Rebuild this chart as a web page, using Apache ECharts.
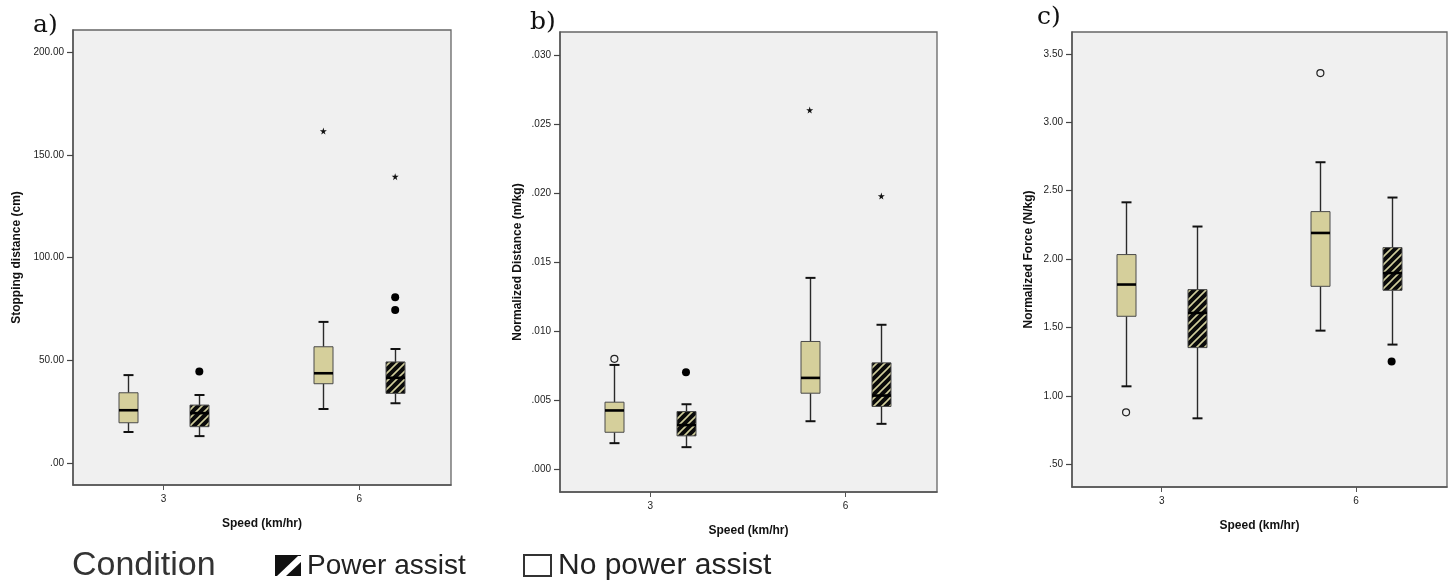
<!DOCTYPE html>
<html>
<head>
<meta charset="utf-8">
<title>Stopping distance, normalized distance and force</title>
<script src="https://cdn.jsdelivr.net/npm/echarts@6/dist/echarts.min.js"></script>
<style>
  html, body { margin: 0; padding: 0; background: #fff; }
  #chart { width: 1455px; height: 582px; }
</style>
</head>
<body>
<div id="chart"></div>
<script>
// speeds on the x axis
const speeds = [3, 6]

// box stats per speed: [lower whisker, Q1, median, Q3, upper whisker]
const stopNoAssist = [[15.1, 19.6, 25.7, 34.2, 42.8], [26.3, 38.6, 43.7, 56.6, 68.7]]
const stopAssist = [[13.1, 17.7, 24.3, 28.2, 33.1], [29.1, 33.9, 41.5, 49.2, 55.5]]
const stopAssistDots = [[3, 44.6], [6, 80.7], [6, 74.5]]
const stopNoAssistStars = [[6, 161.6]]
const stopAssistStars = [[6, 139.4]]

const distNoAssist = [[0.00189, 0.00268, 0.00426, 0.00486, 0.00756], [0.00348, 0.00551, 0.00662, 0.00926, 0.01387]]
const distAssist = [[0.0016, 0.00242, 0.0032, 0.00418, 0.00471], [0.00329, 0.00455, 0.00534, 0.00771, 0.01047]]
const distNoAssistCircles = [[3, 0.0080]]
const distAssistDots = [[3, 0.00703]]
const distNoAssistStars = [[6, 0.02603]]
const distAssistStars = [[6, 0.0198]]

const forceNoAssist = [[1.070, 1.582, 1.814, 2.033, 2.415], [1.477, 1.801, 2.191, 2.347, 2.708]]
const forceAssist = [[0.836, 1.353, 1.606, 1.777, 2.238], [1.375, 1.772, 1.898, 2.084, 2.450]]
const forceNoAssistCircles = [[3, 0.880], [6, 3.36]]
const forceAssistDots = [[6, 1.251]]

// tick labels
const stopTicks = [0, 50, 100, 150, 200]
const distTicks = [0, 0.005, 0.010, 0.015, 0.020, 0.025, 0.030]
const forceTicks = [0.5, 1, 1.5, 2, 2.5, 3, 3.5]

const KHAKI = '#d5cf9b'
const OFFSET = 0.55 // box shift left/right of the speed tick
const STAR = 'path://M50,0 L61,35 L98,35 L68,57 L79,91 L50,70 L21,91 L32,57 L2,35 L39,35 Z'

// black background with pale diagonal stripes
function makeHatch() {
  const s = 8
  const c = document.createElement('canvas')
  c.width = s
  c.height = s
  const g = c.getContext('2d')
  g.fillStyle = '#0a0a0a'
  g.fillRect(0, 0, s, s)
  g.strokeStyle = '#cfcc9a'
  g.lineWidth = 1.6
  g.beginPath()
  g.moveTo(-2, s + 2); g.lineTo(s + 2, -2)
  g.moveTo(-2, 2); g.lineTo(2, -2)
  g.moveTo(s - 2, s + 2); g.lineTo(s + 2, s - 2)
  g.stroke()
  return c
}
const hatch = { image: makeHatch(), repeat: 'repeat' }

function boxSeries(stats, offset, fill, idx) {
  return {
    type: 'custom',
    xAxisIndex: idx,
    yAxisIndex: idx,
    data: stats.map((s, i) => [speeds[i]].concat(s)),
    encode: { x: 0, y: [1, 2, 3, 4, 5] },
    renderItem(params, api) {
      const x = api.value(0) + offset
      const lo = api.coord([x, api.value(1)])
      const q1 = api.coord([x, api.value(2)])
      const md = api.coord([x, api.value(3)])
      const q3 = api.coord([x, api.value(4)])
      const hi = api.coord([x, api.value(5)])
      const cx = Math.round(lo[0]) + 0.5
      const hw = 9.5
      const cw = 5
      const wStyle = { stroke: '#2a2a2a', lineWidth: 1.4 }
      const capStyle = { stroke: '#111', lineWidth: 2 }
      return {
        type: 'group',
        children: [
          { type: 'line', shape: { x1: cx, y1: hi[1], x2: cx, y2: q3[1] }, style: wStyle },
          { type: 'line', shape: { x1: cx, y1: q1[1], x2: cx, y2: lo[1] }, style: wStyle },
          { type: 'line', shape: { x1: cx - cw, y1: hi[1], x2: cx + cw, y2: hi[1] }, style: capStyle },
          { type: 'line', shape: { x1: cx - cw, y1: lo[1], x2: cx + cw, y2: lo[1] }, style: capStyle },
          {
            type: 'rect',
            shape: { x: cx - hw, y: q3[1], width: hw * 2, height: q1[1] - q3[1] },
            style: { fill: fill, stroke: '#4a4a4a', lineWidth: 1 }
          },
          { type: 'line', shape: { x1: cx - hw, y1: md[1], x2: cx + hw, y2: md[1] }, style: { stroke: '#000', lineWidth: 2.6 } }
        ]
      }
    }
  }
}

function pointSeries(points, offset, kind, idx) {
  const base = {
    type: 'scatter',
    xAxisIndex: idx,
    yAxisIndex: idx,
    data: points.map(p => [p[0] + offset, p[1]]),
    z: 5,
    silent: true
  }
  if (kind === 'dot') {
    return Object.assign(base, { symbol: 'circle', symbolSize: 8, itemStyle: { color: '#000', opacity: 1 } })
  }
  if (kind === 'circle') {
    return Object.assign(base, {
      symbol: 'circle', symbolSize: 7,
      itemStyle: { color: '#f0f0f0', borderColor: '#222', borderWidth: 1.2, opacity: 1 }
    })
  }
  return Object.assign(base, { symbol: STAR, symbolSize: 7, itemStyle: { color: '#111', opacity: 1 } })
}

const panels = [
  { grid: { left: 73, top: 30, width: 378, height: 455 }, min: -10.7, max: 210.8, ticks: stopTicks,
    fmt: v => (v === 0 ? '.00' : v.toFixed(2)), name: 'Stopping distance (cm)', gap: 50 },
  { grid: { left: 560, top: 32, width: 377, height: 460 }, min: -0.00165, max: 0.03169, ticks: distTicks,
    fmt: v => v.toFixed(3).replace(/^0/, ''), name: 'Normalized Distance (m/kg)', gap: 36 },
  { grid: { left: 1072, top: 32, width: 375, height: 455 }, min: 0.334, max: 3.66, ticks: forceTicks,
    fmt: v => v.toFixed(2).replace(/^0/, ''), name: 'Normalized Force (N/kg)', gap: 37 }
]

const axisLine = { show: true, onZero: false, lineStyle: { color: '#555', width: 1.5 } }
const tickFont = { fontFamily: 'Liberation Sans', fontSize: 10, color: '#222' }
const nameFont = { fontFamily: 'Liberation Sans', fontSize: 12, fontWeight: 'bold', color: '#111' }

const option = {
  animation: false,
  backgroundColor: '#fff',
  grid: panels.map(p => Object.assign({
    show: true, backgroundColor: '#f0f0f0', borderColor: '#666', borderWidth: 1.3
  }, p.grid)),
  xAxis: panels.map((p, i) => ({
    type: 'value',
    gridIndex: i,
    min: 1.615,
    max: 7.405,
    name: 'Speed (km/hr)',
    nameLocation: 'middle',
    nameGap: 33,
    nameTextStyle: nameFont,
    axisLine: axisLine,
    axisTick: { show: true, length: 5, customValues: speeds, lineStyle: { color: '#555' } },
    axisLabel: Object.assign({ margin: 9, customValues: speeds, formatter: v => String(v) }, tickFont),
    splitLine: { show: false }
  })),
  yAxis: panels.map((p, i) => ({
    type: 'value',
    gridIndex: i,
    min: p.min,
    max: p.max,
    name: p.name,
    nameLocation: 'middle',
    nameGap: p.gap,
    nameTextStyle: nameFont,
    axisLine: axisLine,
    axisTick: { show: true, length: 6, customValues: p.ticks, lineStyle: { color: '#444', width: 1.2 } },
    axisLabel: Object.assign({ margin: 9, customValues: p.ticks, formatter: p.fmt }, tickFont),
    splitLine: { show: false }
  })),
  series: [
    boxSeries(stopNoAssist, -OFFSET, KHAKI, 0),
    boxSeries(stopAssist, OFFSET, hatch, 0),
    pointSeries(stopAssistDots, OFFSET, 'dot', 0),
    pointSeries(stopNoAssistStars, -OFFSET, 'star', 0),
    pointSeries(stopAssistStars, OFFSET, 'star', 0),

    boxSeries(distNoAssist, -OFFSET, KHAKI, 1),
    boxSeries(distAssist, OFFSET, hatch, 1),
    pointSeries(distNoAssistCircles, -OFFSET, 'circle', 1),
    pointSeries(distAssistDots, OFFSET, 'dot', 1),
    pointSeries(distNoAssistStars, -OFFSET, 'star', 1),
    pointSeries(distAssistStars, OFFSET, 'star', 1),

    boxSeries(forceNoAssist, -OFFSET, KHAKI, 2),
    boxSeries(forceAssist, OFFSET, hatch, 2),
    pointSeries(forceNoAssistCircles, -OFFSET, 'circle', 2),
    pointSeries(forceAssistDots, OFFSET, 'dot', 2)
  ],
  graphic: [
    // panel letters
    { type: 'text', left: 33, top: 13, style: { text: 'a)', font: '25px "DejaVu Serif"', fill: '#111' } },
    { type: 'text', left: 530, top: 10, style: { text: 'b)', font: '25px "DejaVu Serif"', fill: '#111' } },
    { type: 'text', left: 1037, top: 5, style: { text: 'c)', font: '25px "DejaVu Serif"', fill: '#111' } },
    // legend
    { type: 'text', left: 72, top: 549, style: { text: 'Condition', font: '34px "Liberation Sans"', fill: '#333' } },
    { type: 'rect', shape: { x: 275, y: 555, width: 26, height: 21 }, style: { fill: '#111' } },
    { type: 'polygon', shape: { points: [[277, 576], [286, 576], [301, 562], [301, 556], [298, 556]] }, style: { fill: '#fff' } },
    { type: 'text', left: 307, top: 552, style: { text: 'Power assist', font: '28px "Liberation Sans"', fill: '#222' } },
    { type: 'rect', shape: { x: 524, y: 555, width: 27, height: 21 }, style: { fill: 'none', stroke: '#333', lineWidth: 2 } },
    { type: 'text', left: 558, top: 551, style: { text: 'No power assist', font: '30px "Liberation Sans"', fill: '#222' } }
  ]
}

const chart = echarts.init(document.getElementById('chart'))
chart.setOption(option)
</script>
</body>
</html>
